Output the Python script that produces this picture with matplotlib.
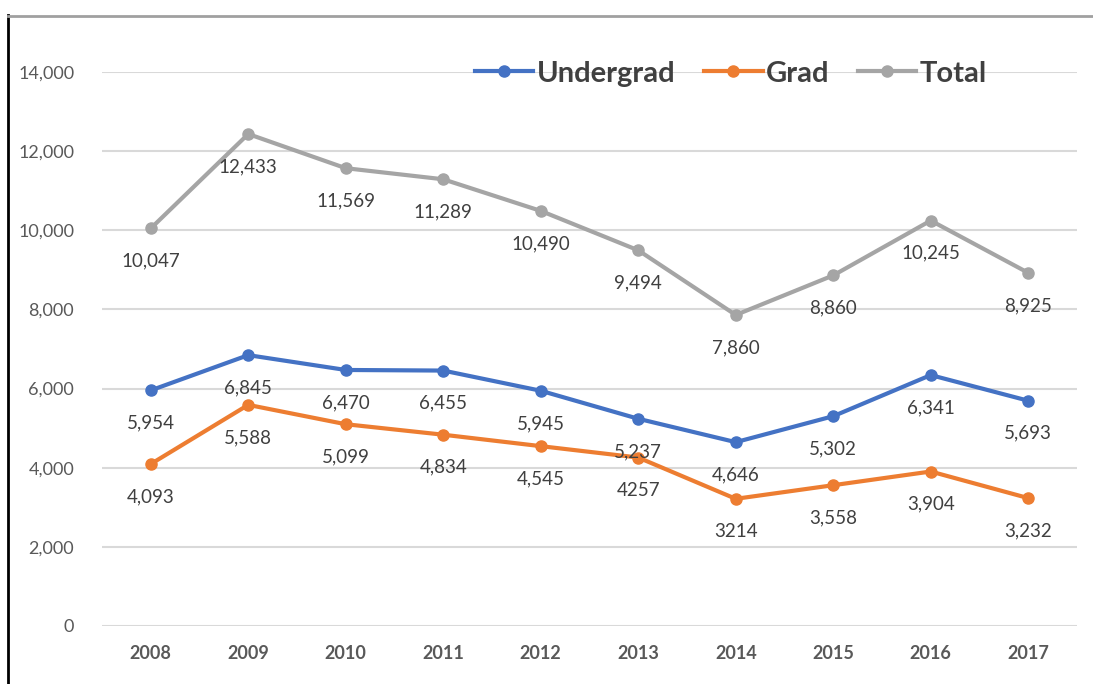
import matplotlib.pyplot as plt
from matplotlib.lines import Line2D

years = ["2008", "2009", "2010", "2011", "2012", "2013", "2014", "2015", "2016", "2017"]
undergrad = [5954, 6845, 6470, 6455, 5945, 5237, 4646, 5302, 6341, 5693]
grad = [4093, 5588, 5099, 4834, 4545, 4257, 3214, 3558, 3904, 3232]
total = [10047, 12433, 11569, 11289, 10490, 9494, 7860, 8860, 10245, 8925]
undergrad_labels = ["5,954", "6,845", "6,470", "6,455", "5,945", "5,237", "4,646", "5,302", "6,341", "5,693"]
grad_labels = ["4,093", "5,588", "5,099", "4,834", "4,545", "4257", "3214", "3,558", "3,904", "3,232"]
total_labels = ["10,047", "12,433", "11,569", "11,289", "10,490", "9,494", "7,860", "8,860", "10,245", "8,925"]
yticks = [0, 2000, 4000, 6000, 8000, 10000, 12000, 14000]
ytick_labels = ["0", "2,000", "4,000", "6,000", "8,000", "10,000", "12,000", "14,000"]

plt.rcParams["font.family"] = ["Lato", "DejaVu Sans"]

fig = plt.figure(figsize=(10.93, 6.84), dpi=100)
ax = fig.add_axes([102 / 1093, 1 - 626 / 684, 975 / 1093, 554 / 684])

x = list(range(len(years)))
series = [
    ("Undergrad", undergrad, undergrad_labels, "#4472C4"),
    ("Grad", grad, grad_labels, "#ED7D31"),
    ("Total", total, total_labels, "#A5A5A5"),
]
handles = []
for name, vals, labs, col in series:
    (ln,) = ax.plot(x, vals, color=col, lw=3, marker="o", ms=8, label=name, zorder=3)
    handles.append(ln)
    for xi, v, lab in zip(x, vals, labs):
        ax.annotate(lab, (xi, v), xytext=(0, -23.5), textcoords="offset points",
                    ha="center", va="center", fontsize=13.5, color="#404040", zorder=4)

ax.set_xlim(-0.5, len(years) - 0.5)
ax.set_ylim(0, 14000)
ax.set_yticks(yticks)
ax.set_yticklabels(ytick_labels)
ax.set_xticks(x)
ax.set_xticklabels(years, fontweight="bold")
ax.grid(axis="y", color="#D9D9D9", lw=1.5)
ax.set_axisbelow(True)
for s in ax.spines.values():
    s.set_visible(False)
ax.tick_params(axis="y", length=0, pad=20, labelsize=13, labelcolor="#595959")
ax.tick_params(axis="x", length=0, pad=14, labelsize=13, labelcolor="#595959")

leg = ax.legend(handles=handles, loc="center", bbox_to_anchor=(0.645, 0.997), ncol=3,
                frameon=False, fontsize=21, handlelength=2.0, handletextpad=0.1,
                columnspacing=1.0)
for t in leg.get_texts():
    t.set_fontweight("bold")
    t.set_color("#404040")

# border lines of the original screenshot
fig.add_artist(Line2D([8 / 1093, 8 / 1093], [0, 1 - 15 / 684], color="black", lw=2))
fig.add_artist(Line2D([8 / 1093, 1], [1 - 16 / 684, 1 - 16 / 684], color="#A0A0A0", lw=2))

fig.savefig("out.png", dpi=100)
